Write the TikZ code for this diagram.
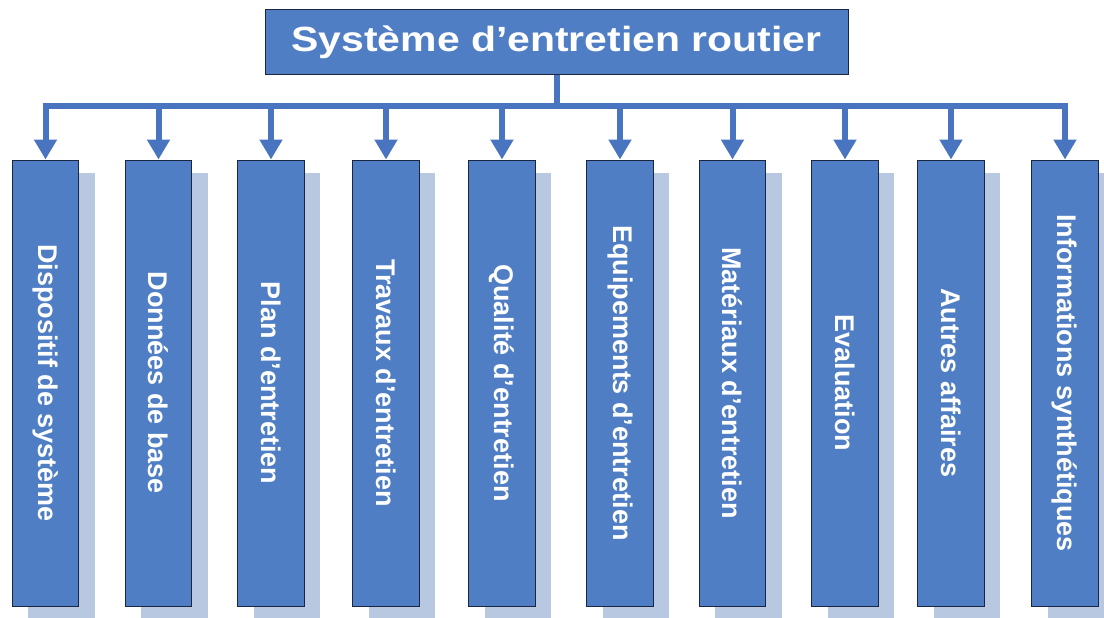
\documentclass[tikz,border=0pt]{standalone}
\usepackage{fontspec}
\setmainfont{Liberation Sans}
\newfontfamily\widefont[FakeStretch=1.17]{Liberation Sans}
\usepackage{tikz}
\usetikzlibrary{arrows.meta,shadows}
\definecolor{boxblue}{HTML}{4F7EC4}
\definecolor{shadeblue}{HTML}{B8C8E0}
\definecolor{edgenavy}{HTML}{1A2540}
\definecolor{linkblue}{HTML}{4874C0}
\tikzset{
  titlebox/.style={draw=edgenavy, line width=1pt, fill=boxblue, text=white, font=\widefont\bfseries\fontsize{35}{40}\selectfont, minimum width=583pt, minimum height=65pt, inner sep=0pt},
  colbox/.style={draw=edgenavy, line width=1pt, fill=boxblue, text=white, font=\bfseries\fontsize{27}{30}\selectfont, minimum width=66.5pt, minimum height=446pt, inner sep=0pt, drop shadow={shadow xshift=16pt, shadow yshift=-13pt, fill=shadeblue, opacity=1, draw=none}},
  link/.style={draw=linkblue, line width=6pt},
  arr/.style={link, -{Triangle[width=22pt,length=20pt]}}
}

\begin{document}
\begin{tikzpicture}[x=1pt,y=-1pt]
\useasboundingbox (0,0) rectangle (1104,618);

\node[titlebox] (title) at (556.5,42.5) {\raisebox{-2pt}{Système d’entretien routier}};

\node[colbox] (dispositif) at (45.5,383) {\rotatebox{-90}{Dispositif de système}};
\node[colbox] (donnees) at (158.5,383) {\rotatebox{-90}{Données de base}};
\node[colbox] (plan) at (271,383) {\rotatebox{-90}{Plan d’entretien}};
\node[colbox] (travaux) at (386,383) {\rotatebox{-90}{Travaux d’entretien}};
\node[colbox] (qualite) at (502,383) {\rotatebox{-90}{Qualité d’entretien}};
\node[colbox] (equip) at (620,383) {\rotatebox{-90}{Equipements d’entretien}};
\node[colbox] (materiaux) at (732.5,383) {\rotatebox{-90}{Matériaux d’entretien}};
\node[colbox] (evaluation) at (845,383) {\rotatebox{-90}{Evaluation}};
\node[colbox] (autres) at (951,383) {\rotatebox{-90}{Autres affaires}};
\node[colbox] (infos) at (1065,383) {\rotatebox{-90}{Informations synthétiques}};

\coordinate (bus) at (556.5,106);

\draw[link] (title.south) -- (bus);
\draw[link] ([xshift=-3pt]dispositif.north |- bus) -- ([xshift=3pt]infos.north |- bus);

\draw[arr] (dispositif.north |- bus) -- (dispositif.north);
\draw[arr] (donnees.north |- bus) -- (donnees.north);
\draw[arr] (plan.north |- bus) -- (plan.north);
\draw[arr] (travaux.north |- bus) -- (travaux.north);
\draw[arr] (qualite.north |- bus) -- (qualite.north);
\draw[arr] (equip.north |- bus) -- (equip.north);
\draw[arr] (materiaux.north |- bus) -- (materiaux.north);
\draw[arr] (evaluation.north |- bus) -- (evaluation.north);
\draw[arr] (autres.north |- bus) -- (autres.north);
\draw[arr] (infos.north |- bus) -- (infos.north);
\end{tikzpicture}
\end{document}
